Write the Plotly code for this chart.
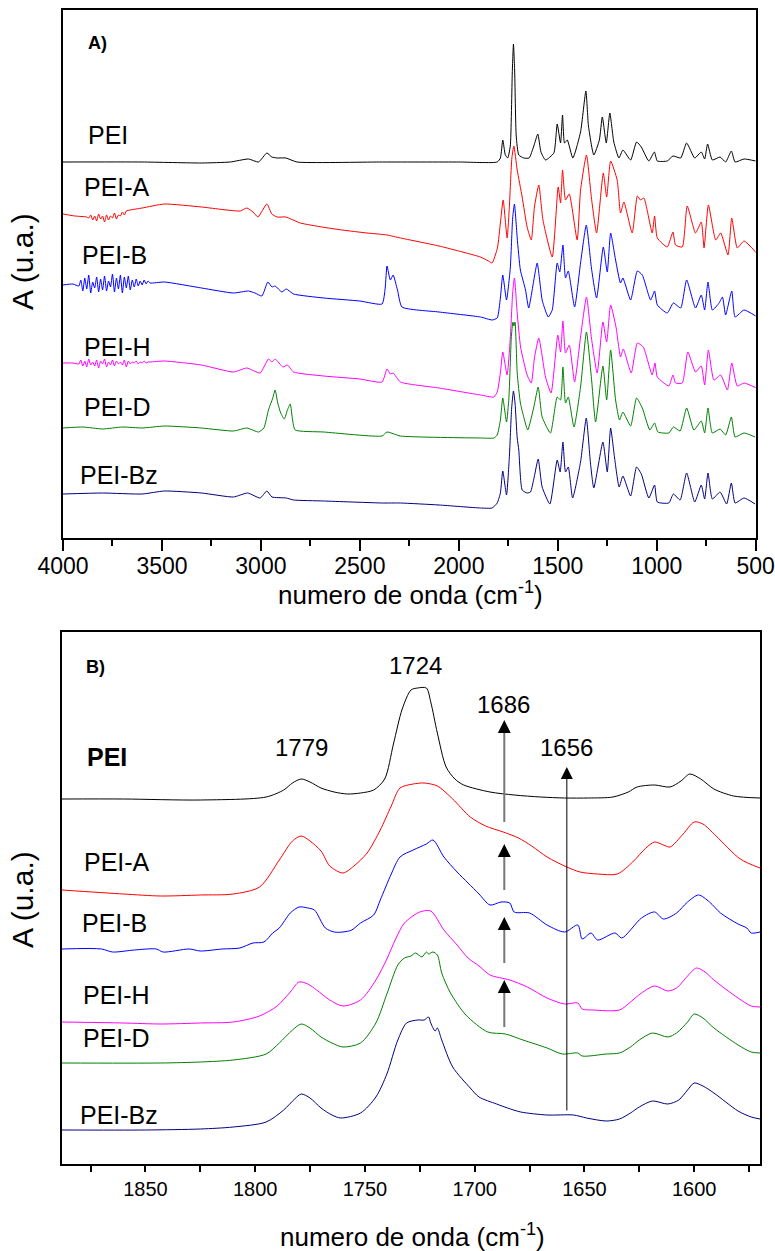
import plotly.graph_objects as go

W, H = 775, 1251

# ---------------- Panel A: full spectra (wavenumber cm-1, offset absorbance a.u.)
A_PEI = [(4000, 376), (3600, 376), (3300, 375), (3155, 376), (3063, 379), (3012, 376), (2970, 385),
         (2945, 381), (2919, 380), (2874, 380), (2818, 376), (2400, 376), (2000, 376), (1806, 376),
         (1790, 380), (1778, 398), (1765, 383), (1753, 380), (1740, 392), (1730, 465), (1724, 494),
         (1718, 468), (1710, 402), (1697, 383), (1672, 380), (1645, 380), (1621, 392), (1601, 404),
         (1585, 386), (1562, 378), (1520, 385), (1503, 414), (1486, 395), (1476, 423), (1466, 395),
         (1452, 398), (1424, 380), (1385, 406), (1358, 447), (1345, 412), (1318, 383), (1290, 398),
         (1275, 421), (1255, 395), (1237, 425), (1217, 396), (1191, 380), (1171, 388), (1132, 378),
         (1102, 396), (1078, 391), (1040, 377), (1012, 386), (997, 377), (947, 377), (918, 382),
         (879, 380), (849, 395), (808, 380), (775, 386), (758, 379), (743, 394), (719, 378),
         (680, 381), (652, 376), (623, 387), (604, 376), (559, 379), (500, 377)]

A_PEI_A = [(4000, 324), (3940, 322), (3880, 321), (3870, 320), (3860, 323), (3850, 318), (3840, 322),
           (3830, 317), (3820, 324), (3810, 319), (3800, 322), (3790, 316), (3780, 323), (3770, 318),
           (3760, 322), (3750, 320), (3740, 325), (3730, 319), (3720, 323), (3710, 322), (3700, 326),
           (3690, 323), (3680, 327), (3661, 328), (3600, 330), (3488, 334), (3300, 331), (3105, 327),
           (3071, 330), (3040, 326), (3015, 321), (2970, 334), (2945, 324), (2919, 321), (2874, 321),
           (2801, 315), (2692, 311), (2590, 308), (2464, 305), (2363, 303), (2295, 300), (2100, 292),
           (1891, 281), (1850, 277), (1832, 275), (1805, 290), (1790, 315), (1776, 338), (1756, 300),
           (1745, 330), (1732, 380), (1722, 392), (1705, 368), (1680, 341), (1655, 311), (1634, 298),
           (1618, 331), (1596, 353), (1575, 318), (1528, 281), (1498, 351), (1486, 335), (1476, 368),
           (1461, 338), (1442, 344), (1402, 298), (1385, 348), (1355, 383), (1330, 340), (1304, 305),
           (1270, 365), (1253, 341), (1233, 377), (1200, 358), (1183, 325), (1166, 336), (1124, 305),
           (1098, 342), (1082, 338), (1065, 340), (1023, 305), (1011, 322), (997, 300), (947, 291),
           (918, 306), (905, 293), (871, 291), (846, 332), (804, 305), (775, 316), (761, 290),
           (739, 333), (702, 298), (677, 305), (640, 283), (621, 320), (593, 290), (559, 297), (496, 285)]

A_PEI_B = [(4000, 253), (3950, 254), (3920, 252), (3910, 258), (3900, 247), (3890, 260), (3880, 249),
           (3870, 263), (3860, 245), (3850, 256), (3840, 250), (3830, 261), (3820, 246), (3810, 259),
           (3800, 248), (3790, 262), (3780, 247), (3770, 257), (3760, 251), (3750, 264), (3740, 246),
           (3730, 260), (3720, 249), (3710, 263), (3700, 245), (3690, 261), (3680, 250), (3670, 262),
           (3660, 248), (3650, 258), (3640, 251), (3630, 259), (3620, 252), (3610, 257), (3600, 253),
           (3590, 258), (3580, 254), (3570, 257), (3560, 255), (3488, 256), (3300, 250), (3139, 245),
           (3063, 247), (3030, 245), (2995, 242), (2965, 256), (2944, 251), (2928, 252), (2894, 246),
           (2872, 249), (2835, 244), (2683, 240), (2500, 237), (2388, 234), (2372, 250), (2363, 272),
           (2346, 258), (2332, 263), (2310, 248), (2287, 231), (2100, 226), (1891, 221), (1832, 218),
           (1806, 220), (1790, 240), (1778, 263), (1759, 238), (1740, 270), (1728, 320), (1719, 334),
           (1705, 300), (1689, 268), (1663, 248), (1647, 230), (1621, 258), (1604, 275), (1579, 238),
           (1560, 226), (1548, 221), (1528, 228), (1503, 275), (1490, 266), (1474, 293), (1461, 260),
           (1447, 267), (1415, 231), (1385, 275), (1356, 313), (1330, 270), (1304, 240), (1270, 291),
           (1250, 266), (1233, 305), (1208, 278), (1183, 255), (1171, 260), (1132, 238), (1098, 267),
           (1073, 263), (1031, 238), (1011, 247), (997, 233), (947, 225), (916, 235), (879, 230),
           (849, 258), (804, 230), (775, 243), (758, 228), (741, 256), (719, 228), (685, 235),
           (668, 241), (652, 223), (621, 247), (604, 221), (559, 228), (500, 222)]

A_PEI_H = [(4000, 175), (3950, 175), (3920, 174), (3910, 178), (3900, 172), (3890, 177), (3880, 171),
           (3870, 179), (3860, 173), (3850, 176), (3840, 172), (3830, 178), (3820, 170), (3810, 177),
           (3800, 174), (3790, 179), (3780, 171), (3770, 176), (3760, 173), (3750, 178), (3740, 172),
           (3730, 177), (3720, 174), (3710, 176), (3700, 173), (3690, 178), (3680, 171), (3670, 177),
           (3660, 174), (3650, 176), (3640, 175), (3630, 177), (3620, 174), (3610, 176), (3600, 175),
           (3590, 177), (3580, 175), (3570, 176), (3560, 176), (3488, 177), (3300, 173), (3139, 166),
           (3071, 170), (3004, 165), (2962, 179), (2944, 176), (2928, 179), (2889, 171), (2866, 173),
           (2835, 166), (2683, 162), (2500, 159), (2388, 156), (2363, 169), (2346, 164), (2332, 165),
           (2295, 156), (2100, 150), (1891, 143), (1823, 141), (1806, 146), (1790, 165), (1778, 186),
           (1756, 163), (1740, 200), (1728, 245), (1719, 260), (1705, 225), (1688, 191), (1655, 163),
           (1634, 155), (1618, 180), (1596, 200), (1562, 161), (1534, 145), (1500, 203), (1486, 186),
           (1474, 217), (1461, 185), (1442, 193), (1415, 156), (1385, 201), (1355, 241), (1330, 200),
           (1301, 165), (1272, 216), (1253, 196), (1233, 233), (1205, 210), (1183, 181), (1169, 189),
           (1129, 165), (1098, 195), (1068, 191), (1023, 163), (1009, 175), (997, 161), (939, 152),
           (918, 163), (905, 155), (871, 155), (843, 186), (804, 166), (775, 172), (758, 153),
           (739, 188), (711, 158), (677, 163), (643, 148), (621, 175), (593, 152), (559, 155), (496, 150)]

A_PEI_D = [(4000, 110), (3900, 111), (3800, 109), (3700, 111), (3600, 110), (3488, 112), (3300, 110),
           (3139, 107), (3071, 110), (3012, 106), (2985, 110), (2962, 128), (2940, 140), (2928, 148),
           (2915, 135), (2900, 125), (2882, 119), (2866, 128), (2852, 134), (2840, 118), (2827, 108),
           (2683, 106), (2388, 102), (2363, 106), (2295, 102), (1891, 100), (1823, 100), (1806, 103),
           (1790, 118), (1778, 140), (1759, 116), (1747, 140), (1735, 200), (1727, 216), (1722, 212),
           (1716, 216), (1705, 165), (1689, 135), (1668, 118), (1652, 108), (1621, 131), (1599, 151),
           (1579, 121), (1537, 105), (1503, 141), (1486, 138), (1474, 171), (1461, 135), (1447, 141),
           (1418, 111), (1385, 151), (1355, 206), (1330, 160), (1309, 116), (1272, 172), (1253, 138),
           (1233, 188), (1208, 138), (1188, 118), (1171, 126), (1132, 112), (1102, 140), (1073, 130),
           (1035, 108), (1011, 115), (994, 106), (939, 105), (916, 111), (882, 107), (849, 130),
           (812, 108), (775, 117), (758, 105), (741, 130), (719, 105), (680, 109), (652, 103),
           (623, 121), (604, 101), (559, 105), (503, 101)]

A_PEI_BZ = [(4000, 44), (3800, 45), (3600, 44), (3488, 47), (3300, 45), (3139, 41), (3067, 45),
            (3004, 40), (2970, 47), (2944, 41), (2872, 40), (2835, 38), (2683, 37), (2388, 35),
            (2295, 35), (2100, 33), (1891, 30), (1832, 30), (1806, 35), (1790, 45), (1778, 67),
            (1759, 43), (1745, 80), (1733, 130), (1724, 147), (1716, 135), (1705, 100), (1697, 88),
            (1680, 48), (1655, 45), (1638, 46), (1619, 61), (1599, 79), (1579, 51), (1540, 34),
            (1503, 78), (1488, 66), (1474, 96), (1461, 66), (1447, 71), (1425, 40), (1385, 76),
            (1356, 120), (1335, 75), (1318, 50), (1272, 96), (1250, 66), (1233, 110), (1213, 80),
            (1190, 51), (1171, 62), (1132, 42), (1102, 71), (1078, 64), (1040, 40), (1011, 53),
            (997, 36), (939, 35), (916, 44), (882, 38), (849, 65), (808, 36), (775, 53), (758, 39),
            (741, 65), (719, 39), (680, 46), (647, 34), (623, 55), (604, 35), (559, 40), (503, 34)]

# ---------------- Panel B: carbonyl region (wavenumber cm-1, offset absorbance a.u.)
B_PEI = [(1888, 365), (1860, 365), (1825, 364), (1795, 367), (1787, 374), (1783, 381), (1779, 385),
         (1775, 382), (1770, 376), (1764, 372), (1758, 370), (1752, 371), (1746, 374), (1741, 385),
         (1737, 420), (1733, 455), (1729, 474), (1726, 476), (1722, 476), (1720, 462), (1717, 431),
         (1713, 397), (1709, 385), (1705, 379), (1693, 372), (1682, 369), (1670, 367), (1659, 366),
         (1648, 366), (1637, 367), (1630, 372), (1626, 377), (1618, 379), (1611, 377), (1606, 383),
         (1602, 390), (1597, 385), (1591, 375), (1582, 368), (1570, 366)]

B_PEI_A = [(1888, 274), (1860, 270), (1843, 268), (1825, 269), (1810, 270), (1798, 277), (1789, 304),
           (1783, 323), (1779, 328), (1775, 323), (1770, 313), (1766, 298), (1760, 291), (1755, 298),
           (1749, 311), (1743, 334), (1738, 358), (1734, 376), (1728, 380), (1723, 381), (1717, 378),
           (1710, 365), (1702, 347), (1695, 338), (1687, 332), (1680, 326), (1674, 318), (1667, 307),
           (1658, 297), (1652, 292), (1644, 290), (1635, 290), (1628, 302), (1622, 316), (1618, 322),
           (1614, 319), (1611, 317), (1605, 330), (1600, 342), (1596, 340), (1590, 328), (1579, 305),
           (1570, 296)]

B_PEI_B = [(1888, 215), (1870, 215), (1865, 212), (1855, 214), (1845, 215), (1842, 212), (1830, 215),
           (1825, 213), (1815, 215), (1807, 216), (1801, 221), (1796, 222), (1792, 231), (1789, 236),
           (1784, 251), (1780, 257), (1776, 256), (1773, 254), (1768, 236), (1764, 232), (1760, 232),
           (1756, 234), (1752, 241), (1746, 249), (1743, 264), (1738, 290), (1734, 307), (1728, 314),
           (1722, 320), (1719, 324), (1714, 307), (1708, 292), (1703, 281), (1698, 270), (1693, 259),
           (1688, 262), (1684, 261), (1682, 252), (1675, 251), (1667, 239), (1659, 232), (1653, 239),
           (1651, 225), (1647, 231), (1644, 224), (1636, 231), (1633, 226), (1624, 246), (1618, 252),
           (1614, 245), (1608, 251), (1603, 262), (1598, 269), (1593, 262), (1588, 251), (1580, 240),
           (1576, 236), (1574, 231), (1570, 232)]

B_PEI_H = [(1888, 142), (1860, 141), (1843, 140), (1825, 141), (1810, 142), (1798, 148), (1790, 158),
           (1784, 172), (1780, 182), (1776, 180), (1772, 174), (1766, 164), (1760, 158), (1752, 164),
           (1745, 184), (1740, 205), (1736, 225), (1732, 241), (1725, 252), (1720, 253), (1714, 234),
           (1708, 219), (1703, 206), (1698, 198), (1693, 189), (1684, 184), (1676, 177), (1667, 166),
           (1659, 160), (1653, 161), (1651, 155), (1646, 154), (1634, 154), (1629, 162), (1624, 171),
           (1618, 178), (1612, 173), (1608, 176), (1603, 188), (1599, 196), (1595, 192), (1591, 184),
           (1580, 166), (1574, 158), (1570, 157)]

B_PEI_D = [(1888, 101), (1843, 101), (1825, 102), (1810, 104), (1795, 110), (1789, 121), (1783, 134),
           (1779, 140), (1775, 136), (1770, 127), (1765, 121), (1760, 117), (1752, 121), (1745, 141),
           (1740, 170), (1735, 199), (1732, 206), (1729, 208), (1727, 211), (1724, 207), (1722, 212),
           (1721, 210), (1719, 212), (1717, 209), (1715, 191), (1711, 171), (1704, 149), (1694, 132),
           (1686, 130), (1678, 124), (1667, 116), (1660, 110), (1653, 111), (1651, 108), (1640, 110),
           (1634, 111), (1629, 117), (1625, 124), (1619, 131), (1612, 127), (1608, 131), (1603, 142),
           (1600, 150), (1596, 146), (1591, 136), (1580, 119), (1574, 112), (1570, 111)]

B_PEI_BZ = [(1888, 34), (1850, 34), (1825, 35), (1810, 37), (1795, 42), (1787, 54), (1782, 65),
            (1779, 70), (1775, 66), (1770, 56), (1765, 49), (1761, 46), (1752, 51), (1745, 67),
            (1740, 90), (1735, 124), (1731, 141), (1726, 144), (1723, 144), (1721, 147), (1720, 141),
            (1718, 133), (1717, 136), (1715, 124), (1710, 97), (1702, 76), (1698, 67), (1690, 60),
            (1685, 56), (1679, 52), (1667, 49), (1655, 49), (1649, 46), (1640, 43), (1634, 45),
            (1629, 51), (1625, 57), (1619, 63), (1612, 60), (1607, 64), (1603, 74), (1600, 81),
            (1596, 78), (1591, 71), (1580, 53), (1574, 47), (1570, 45)]

SERIES_NAMES = ["PEI", "PEI-A", "PEI-B", "PEI-H", "PEI-D", "PEI-Bz"]
SERIES_COLORS = ["#000000", "#ff0000", "#0000ff", "#ff00ff", "#008000", "#000080"]

A_TICKS = [4000, 3500, 3000, 2500, 2000, 1500, 1000, 500]
A_MINOR = [3750, 3250, 2750, 2250, 1750, 1250, 750]
B_TICKS = [1850, 1800, 1750, 1700, 1650, 1600]
B_MINOR = [1875, 1825, 1775, 1725, 1675, 1625, 1575]

# peak annotations in panel B: (label, wavenumber, height)
B_PEAK_LABELS = [("1779", 1779, 417), ("1724", 1727, 499), ("1686", 1687, 460), ("1656", 1658, 417)]
# arrows at 1686 (tail height, head height)
B_ARROWS_1686 = [(342, 444), (274, 320), (201, 247), (137, 184)]
ARROW_1686_X = 1686.5
ARROW_1656 = (1658, 52, 397)

# label positions (wavenumber, height)
A_LABEL_POS = [(3884, 403), (3905, 351), (3914, 283), (3905, 191), (3905, 131), (3924, 63)]
B_LABEL_POS = [(1877.5, 407), (1879, 302), (1880, 241), (1879.3, 169), (1879.3, 126), (1880.7, 49)]

FONT = "Liberation Sans, Arial, sans-serif"

fig = go.Figure()
for data, name, col in zip([A_PEI, A_PEI_A, A_PEI_B, A_PEI_H, A_PEI_D, A_PEI_BZ], SERIES_NAMES, SERIES_COLORS):
    wn, ab = zip(*data)
    fig.add_trace(go.Scatter(x=list(wn), y=list(ab), mode="lines", name=name,
                             line=dict(color=col, width=1, shape="spline", smoothing=0.5),
                             xaxis="x", yaxis="y", showlegend=False, hoverinfo="skip"))
for data, name, col in zip([B_PEI, B_PEI_A, B_PEI_B, B_PEI_H, B_PEI_D, B_PEI_BZ], SERIES_NAMES, SERIES_COLORS):
    wn, ab = zip(*data)
    fig.add_trace(go.Scatter(x=list(wn), y=list(ab), mode="lines", name=name,
                             line=dict(color=col, width=1, shape="spline", smoothing=0.8),
                             xaxis="x2", yaxis="y2", showlegend=False, hoverinfo="skip"))

ann = []
for (x, y), name in zip(A_LABEL_POS, SERIES_NAMES):
    ann.append(dict(x=x, y=y, xref="x", yref="y", text=name, showarrow=False, xanchor="left",
                    yanchor="middle", font=dict(family=FONT, size=25, color="black")))
for (x, y), name in zip(B_LABEL_POS, SERIES_NAMES):
    txt = "<b>%s</b>" % name if name == "PEI" else name
    ann.append(dict(x=x, y=y, xref="x2", yref="y2", text=txt, showarrow=False, xanchor="left",
                    yanchor="middle", font=dict(family=FONT, size=25, color="black")))
ann.append(dict(x=3884, y=495, xref="x", yref="y", text="<b>A)</b>", showarrow=False, xanchor="left",
                yanchor="middle", font=dict(family=FONT, size=18, color="black")))
ann.append(dict(x=1878, y=497, xref="x2", yref="y2", text="<b>B)</b>", showarrow=False, xanchor="left",
                yanchor="middle", font=dict(family=FONT, size=18, color="black")))
for txt, x, y in B_PEAK_LABELS:
    ann.append(dict(x=x, y=y, xref="x2", yref="y2", text=txt, showarrow=False, xanchor="center",
                    yanchor="middle", font=dict(family=FONT, size=24, color="black")))

shapes = []
for tail, head in B_ARROWS_1686:
    shapes.append(dict(type="line", xref="x2", yref="y2", x0=ARROW_1686_X, x1=ARROW_1686_X,
                       y0=tail, y1=head - 6, line=dict(color="#777777", width=2)))
    ann.append(dict(x=ARROW_1686_X, y=head, xref="x2", yref="y2", ax=ARROW_1686_X, ay=head - 8,
                    axref="x2", ayref="y2", text="", showarrow=True, arrowhead=2, arrowsize=2.0,
                    arrowwidth=1.3, arrowcolor="black"))
ax1656, t1656, h1656 = ARROW_1656
ann.append(dict(x=ax1656, y=h1656, xref="x2", yref="y2", ax=ax1656, ay=t1656, axref="x2", ayref="y2",
                text="", showarrow=True, arrowhead=2, arrowsize=2.4, arrowwidth=1, arrowcolor="black"))


# axis titles (pixel positions -> paper)
def P(xp, yp):
    return xp / W, 1 - yp / H


for (xp, yp), txt, size, ang in [
        ((411, 593), "numero de onda (cm<sup>-1</sup>)", 26, 0),
        ((412, 1235), "numero de onda (cm<sup>-1</sup>)", 26, 0),
        ((22, 262), "A (u.a.)", 30, -90),
        ((22, 900), "A (u.a.)", 30, -90)]:
    x, y = P(xp, yp)
    ann.append(dict(x=x, y=y, xref="paper", yref="paper", text=txt, showarrow=False, textangle=ang,
                    xanchor="center", yanchor="middle", font=dict(family=FONT, size=size, color="black")))

axis_common = dict(showline=True, linewidth=2, linecolor="black", mirror=True, showgrid=False,
                   zeroline=False, automargin=False)
fig.update_layout(
    width=W, height=H, margin=dict(l=0, r=0, t=0, b=0, autoexpand=False),
    paper_bgcolor="white", plot_bgcolor="white",
    xaxis=dict(domain=[63 / W, 755.7 / W], range=[4000, 500], anchor="y", tickmode="array",
               tickvals=A_TICKS, ticktext=[str(v) for v in A_TICKS], ticks="outside", ticklen=11,
               tickwidth=1.5, tickcolor="black", ticklabelstandoff=-5,
               minor=dict(tickmode="array", tickvals=A_MINOR, ticks="outside", ticklen=6, tickwidth=1.5,
                          tickcolor="black"),
               tickfont=dict(family=FONT, size=23, color="black"), **axis_common),
    yaxis=dict(domain=[1 - 538 / H, 1 - 10 / H], range=[0, 528], anchor="x", showticklabels=False,
               ticks="", **axis_common),
    xaxis2=dict(domain=[62 / W, 760 / W], range=[1888, 1570], anchor="y2", tickmode="array",
                tickvals=B_TICKS, ticktext=[str(v) for v in B_TICKS], ticks="outside", ticklen=6,
                tickwidth=1.5, tickcolor="black",
                minor=dict(tickmode="array", tickvals=B_MINOR, ticks="outside", ticklen=6, tickwidth=1.5,
                           tickcolor="black"),
                tickfont=dict(family=FONT, size=20, color="black"), **axis_common),
    yaxis2=dict(domain=[1 - 1164 / H, 1 - 632 / H], range=[0, 532], anchor="x2", showticklabels=False,
                ticks="", **axis_common),
    annotations=ann, shapes=shapes,
)

fig.write_html("out.html")
